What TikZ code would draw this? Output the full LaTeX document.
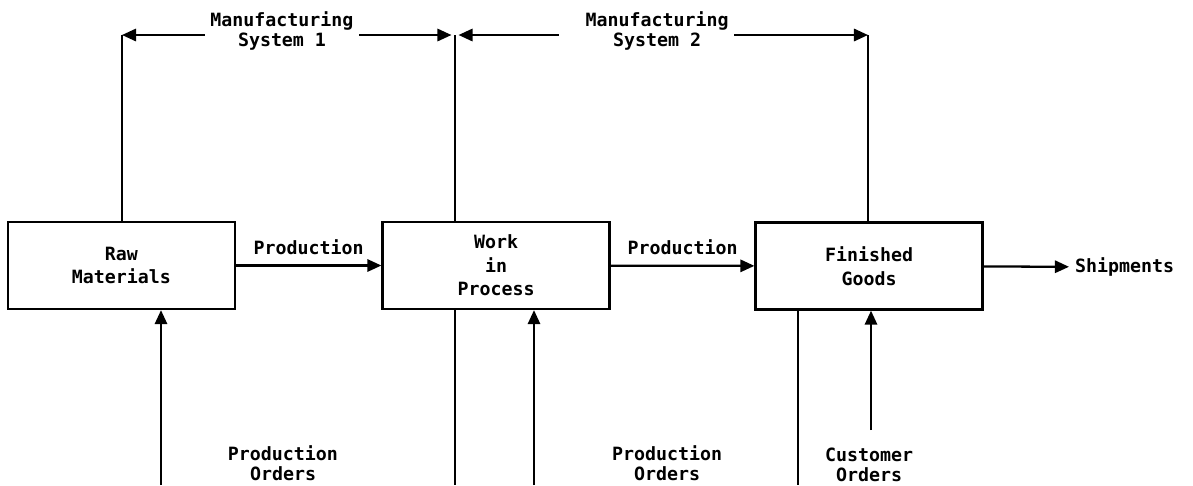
\documentclass[tikz,border=0pt]{standalone}
\usepackage{fontspec}
\setmonofont{DejaVu Sans Mono}
\usetikzlibrary{arrows.meta}

\tikzset{
  stock/.style={draw, line width=1.3pt, minimum width=4.54cm, minimum height=1.74cm,
    align=center, inner sep=0pt, font=\ttfamily\bfseries\fontsize{10.4}{13.4}\selectfont},
  flow/.style={line width=1.3pt, -{Triangle[length=8pt,width=7pt]}},
  link/.style={line width=1.2pt},
  lbl/.style={align=center, inner sep=3pt},
}

\begin{document}
\begin{tikzpicture}[x=0.02cm, y=-0.02cm, font=\ttfamily\bfseries\fontsize{10.4}{11.6}\selectfont]
          \useasboundingbox (0,0) rectangle (1193,485);
          % stocks
          \node[stock] (raw) at (121.5,265.5){Raw\\Materials};
          \node[stock] (wip) at (496,265.5){Work\\in\\Process};
          \node[stock] (fg) at (869,266){Finished\\Goods};
          % system bounds
          \coordinate (t1) at (122,35);
          \coordinate (t2) at (455,35);
          \coordinate (t3) at (868,35);
          \node[lbl] (sys1) at (282,31){Manufacturing\\System 1};
          \node[lbl] (sys2) at (657,31){Manufacturing\\System 2};
          \draw[link](t1) -- (raw.north -| t1);
          \draw[link](t2) -- (wip.north -| t2);
          \draw[link](t3) -- (fg.north -| t3);
          \draw[flow](sys1.west |- t1) -- (t1);
          \draw[flow](sys1.east |- t1) -- ([xshift=-2]t2);
          \draw[flow]([xshift=-12]sys2.west |- t2) -- ([xshift=2]t2);
          \draw[flow](sys2.east |- t3) -- (t3);
          % material flow
          \draw[flow](raw) -- (wip) node[midway, above=2pt]{Production};
          \draw[flow](wip) -- (fg) node[midway, above=2pt]{Production};
          \node[anchor=west] (ship) at (1069,267){Shipments};
          \draw[flow](fg) -- (ship);
          % orders
          \coordinate (o1) at (161,485);
          \coordinate (o2) at (534,485);
          \coordinate (o3) at (871,430);
          \coordinate (w1) at (455,485);
          \coordinate (w2) at (798,485);
          \draw[flow](o1) -- (raw.south -| o1);
          \draw[flow](o2) -- (wip.south -| o2);
          \draw[flow](o3) -- (fg.south -| o3);
          \draw[link](wip.south -| w1) -- (w1);
          \draw[link](fg.south -| w2) -- (w2);
          \node[lbl] (po1) at (283,463){Production\\Orders};
          \node[lbl] (po2) at (667,463){Production\\Orders};
          \node[lbl] (co) at (869,465){Customer\\Orders};
        \end{tikzpicture}
\end{document}
